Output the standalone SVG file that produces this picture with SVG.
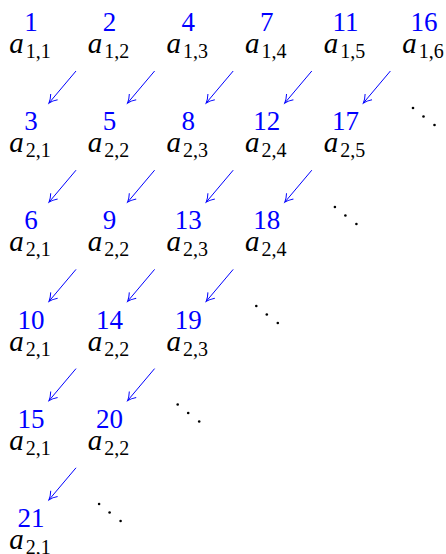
<svg xmlns="http://www.w3.org/2000/svg" xmlns:xlink="http://www.w3.org/1999/xlink" width="446" height="554" viewBox="0 0 446 554">
<style>
.n{font-family:"Liberation Serif","DejaVu Serif",serif;font-size:27px;fill:#0000ff;text-anchor:middle}
.a{font-family:"Liberation Serif","DejaVu Serif",serif;font-size:29px;fill:#000;text-anchor:middle}
.a .v{font-style:italic}
.a .s{font-size:20px}
.arr{stroke:#0000ff;stroke-width:1;fill:none;marker-end:url(#ah)}
</style>
<defs>
<marker id="ah" markerUnits="userSpaceOnUse" orient="auto" markerWidth="14" markerHeight="14" viewBox="-9 -7 11 14" refX="0" refY="0">
<path d="M -8 -4.5 Q -3.5 -1 0 0 Q -3.5 1 -8 4.5" stroke="#0000ff" stroke-width="1" fill="none"/>
</marker>
<g id="dd"><circle cx="-10.5" cy="-8.5" r="1.3"/><circle cx="0" cy="0" r="1.3"/><circle cx="11" cy="8.5" r="1.3"/></g>
</defs>
<g id="n1"><text class="n" x="31" y="31">1</text><text class="a" x="30" y="53"><tspan class="v">a</tspan><tspan class="s" dx="2" dy="5">1,1</tspan></text></g>
<g id="n2"><text class="n" x="109.6" y="31">2</text><text class="a" x="108.6" y="53"><tspan class="v">a</tspan><tspan class="s" dx="2" dy="5">1,2</tspan></text></g>
<g id="n4"><text class="n" x="188.2" y="31">4</text><text class="a" x="187.2" y="53"><tspan class="v">a</tspan><tspan class="s" dx="2" dy="5">1,3</tspan></text></g>
<g id="n7"><text class="n" x="266.8" y="31">7</text><text class="a" x="265.8" y="53"><tspan class="v">a</tspan><tspan class="s" dx="2" dy="5">1,4</tspan></text></g>
<g id="n11"><text class="n" x="345.4" y="31">11</text><text class="a" x="344.4" y="53"><tspan class="v">a</tspan><tspan class="s" dx="2" dy="5">1,5</tspan></text></g>
<g id="n16"><text class="n" x="424" y="31">16</text><text class="a" x="423" y="53"><tspan class="v">a</tspan><tspan class="s" dx="2" dy="5">1,6</tspan></text></g>

<g id="n3"><text class="n" x="31" y="130.2">3</text><text class="a" x="30" y="152.2"><tspan class="v">a</tspan><tspan class="s" dx="2" dy="5">2,1</tspan></text></g>
<g id="n5"><text class="n" x="109.6" y="130.2">5</text><text class="a" x="108.6" y="152.2"><tspan class="v">a</tspan><tspan class="s" dx="2" dy="5">2,2</tspan></text></g>
<g id="n8"><text class="n" x="188.2" y="130.2">8</text><text class="a" x="187.2" y="152.2"><tspan class="v">a</tspan><tspan class="s" dx="2" dy="5">2,3</tspan></text></g>
<g id="n12"><text class="n" x="266.8" y="130.2">12</text><text class="a" x="265.8" y="152.2"><tspan class="v">a</tspan><tspan class="s" dx="2" dy="5">2,4</tspan></text></g>
<g id="n17"><text class="n" x="345.4" y="130.2">17</text><text class="a" x="344.4" y="152.2"><tspan class="v">a</tspan><tspan class="s" dx="2" dy="5">2,5</tspan></text></g>

<g id="n6"><text class="n" x="31" y="229.4">6</text><text class="a" x="30" y="251.4"><tspan class="v">a</tspan><tspan class="s" dx="2" dy="5">2,1</tspan></text></g>
<g id="n9"><text class="n" x="109.6" y="229.4">9</text><text class="a" x="108.6" y="251.4"><tspan class="v">a</tspan><tspan class="s" dx="2" dy="5">2,2</tspan></text></g>
<g id="n13"><text class="n" x="188.2" y="229.4">13</text><text class="a" x="187.2" y="251.4"><tspan class="v">a</tspan><tspan class="s" dx="2" dy="5">2,3</tspan></text></g>
<g id="n18"><text class="n" x="266.8" y="229.4">18</text><text class="a" x="265.8" y="251.4"><tspan class="v">a</tspan><tspan class="s" dx="2" dy="5">2,4</tspan></text></g>

<g id="n10"><text class="n" x="31" y="328.6">10</text><text class="a" x="30" y="350.6"><tspan class="v">a</tspan><tspan class="s" dx="2" dy="5">2,1</tspan></text></g>
<g id="n14"><text class="n" x="109.6" y="328.6">14</text><text class="a" x="108.6" y="350.6"><tspan class="v">a</tspan><tspan class="s" dx="2" dy="5">2,2</tspan></text></g>
<g id="n19"><text class="n" x="188.2" y="328.6">19</text><text class="a" x="187.2" y="350.6"><tspan class="v">a</tspan><tspan class="s" dx="2" dy="5">2,3</tspan></text></g>

<g id="n15"><text class="n" x="31" y="427.8">15</text><text class="a" x="30" y="449.8"><tspan class="v">a</tspan><tspan class="s" dx="2" dy="5">2,1</tspan></text></g>
<g id="n20"><text class="n" x="109.6" y="427.8">20</text><text class="a" x="108.6" y="449.8"><tspan class="v">a</tspan><tspan class="s" dx="2" dy="5">2,2</tspan></text></g>

<g id="n21"><text class="n" x="31" y="527">21</text><text class="a" x="30" y="549"><tspan class="v">a</tspan><tspan class="s" dx="2" dy="5">2,1</tspan></text></g>

<g id="dots">
<use xlink:href="#dd" href="#dd" x="423.5" y="116.5"/>
<use xlink:href="#dd" href="#dd" x="345.4" y="215.5"/>
<use xlink:href="#dd" href="#dd" x="266.8" y="314.5"/>
<use xlink:href="#dd" href="#dd" x="188.2" y="413"/>
<use xlink:href="#dd" href="#dd" x="109.6" y="512.5"/>
</g>

<g id="connectors">
<line class="arr" x1="76" y1="71" x2="49" y2="103"/>
<line class="arr" x1="154.6" y1="71" x2="127.6" y2="103"/>
<line class="arr" x1="233.2" y1="71" x2="206.2" y2="103"/>
<line class="arr" x1="311.8" y1="71" x2="284.8" y2="103"/>
<line class="arr" x1="390.4" y1="71" x2="363.4" y2="103"/>

<line class="arr" x1="76" y1="170.2" x2="49" y2="202.2"/>
<line class="arr" x1="154.6" y1="170.2" x2="127.6" y2="202.2"/>
<line class="arr" x1="233.2" y1="170.2" x2="206.2" y2="202.2"/>
<line class="arr" x1="311.8" y1="170.2" x2="284.8" y2="202.2"/>

<line class="arr" x1="76" y1="269.4" x2="49" y2="301.4"/>
<line class="arr" x1="154.6" y1="269.4" x2="127.6" y2="301.4"/>
<line class="arr" x1="233.2" y1="269.4" x2="206.2" y2="301.4"/>

<line class="arr" x1="76" y1="368.6" x2="49" y2="400.6"/>
<line class="arr" x1="154.6" y1="368.6" x2="127.6" y2="400.6"/>

<line class="arr" x1="76" y1="467.8" x2="49" y2="499.8"/>
</g>
</svg>
